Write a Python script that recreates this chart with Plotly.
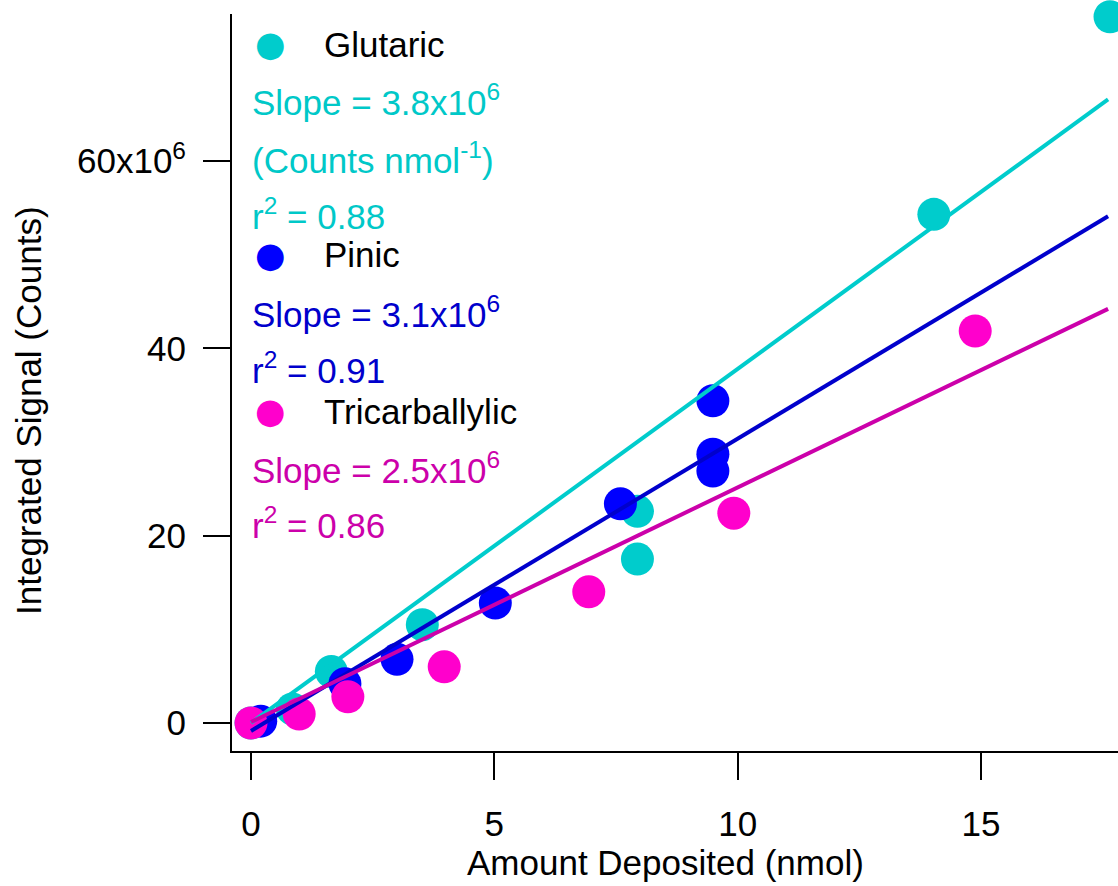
import plotly.graph_objects as go

# ---------------- data (signal in units of 1e6 counts) ----------------
glut_x = [0.0, 0.85, 1.65, 3.52, 7.94, 7.94, 14.03, 17.65]
glut_y = [0.0, 1.5, 5.5, 10.5, 22.6, 17.5, 54.3, 75.4]
pinic_x = [0.2, 1.93, 3.0, 5.02, 7.59, 9.49, 9.49, 9.49]
pinic_y = [0.2, 4.2, 6.8, 12.8, 23.4, 34.4, 28.7, 26.9]
tri_x = [0.0, 0.99, 1.99, 3.97, 6.94, 9.92, 14.88]
tri_y = [0.0, 0.96, 2.8, 6.0, 14.0, 22.4, 41.85]

fit_x = [0.0, 17.61]
glut_fit = (3.78, 0.0)     # slope, intercept
pinic_fit = (3.12, -0.85)
tri_fit = (2.505, 0.1)

y_tickvals = [0, 20, 40, 60]
y_ticktext = ["0", "20", "40", "60x10<sup>6</sup>"]
x_tickvals = [0, 5, 10, 15]

names = ["Glutaric", "Pinic", "Tricarballylic"]
slope_txt = ["Slope = 3.8x10<sup>6</sup>", "Slope = 3.1x10<sup>6</sup>", "Slope = 2.5x10<sup>6</sup>"]
r2_txt = ["r<sup>2</sup> = 0.88", "r<sup>2</sup> = 0.91", "r<sup>2</sup> = 0.86"]
units_txt = "(Counts nmol<sup>-1</sup>)"

# ---------------- style ----------------
W, H = 1118, 886
L, R, T, B = 232, 0, 14, 135
FONT = "Liberation Sans, Arial, sans-serif"
FS = 35
mk_col = ["#00CCCC", "#0000FF", "#FF00CC"]
ln_col = ["#00CCCC", "#0000CC", "#CC00AA"]
tx_col = ["#00C8C8", "#0000CC", "#CC00AA"]

def px(xp):
    return (xp - L) / (W - L - R)

def py(yp):
    return 1 - (yp - T) / (H - T - B)

fig = go.Figure()
for xs, ys, c, n in [(glut_x, glut_y, mk_col[0], names[0]),
                     (pinic_x, pinic_y, mk_col[1], names[1]),
                     (tri_x, tri_y, mk_col[2], names[2])]:
    fig.add_trace(go.Scatter(x=xs, y=ys, mode="markers", name=n,
                             marker=dict(size=33, color=c, line=dict(width=0)),
                             cliponaxis=False, showlegend=False))
for (m, b), c in [(glut_fit, ln_col[0]), (pinic_fit, ln_col[1]), (tri_fit, ln_col[2])]:
    fig.add_trace(go.Scatter(x=fit_x, y=[m * v + b for v in fit_x], mode="lines",
                             line=dict(color=c, width=4), showlegend=False,
                             cliponaxis=False))

ann = []
rows = [(44, 100, 214, 158), (255, 312, 368, None), (411, 468, 523, None)]
for i, (yn, ys, yr, yu) in enumerate(rows):
    ann.append(dict(x=px(270), y=py(yn), text="●", showarrow=False,
                    xanchor="center", yanchor="middle",
                    font=dict(family="DejaVu Sans", size=35, color=mk_col[i])))
    ann.append(dict(x=px(322), y=py(yn), text=names[i], showarrow=False,
                    xanchor="left", yanchor="middle",
                    font=dict(family=FONT, size=FS, color="black")))
    ann.append(dict(x=px(250), y=py(ys), text=slope_txt[i], showarrow=False,
                    xanchor="left", yanchor="middle",
                    font=dict(family=FONT, size=FS, color=tx_col[i])))
    ann.append(dict(x=px(250), y=py(yr), text=r2_txt[i], showarrow=False,
                    xanchor="left", yanchor="middle",
                    font=dict(family=FONT, size=FS, color=tx_col[i])))
    if yu is not None:
        ann.append(dict(x=px(250), y=py(yu), text=units_txt, showarrow=False,
                        xanchor="left", yanchor="middle",
                        font=dict(family=FONT, size=FS, color=tx_col[i])))

ann.append(dict(x=px(665), y=py(862), text="Amount Deposited (nmol)", showarrow=False,
                xanchor="center", yanchor="middle",
                font=dict(family=FONT, size=FS, color="black")))
ann.append(dict(x=px(28), y=py(411), text="Integrated Signal (Counts)", showarrow=False,
                textangle=-90, xanchor="center", yanchor="middle",
                font=dict(family=FONT, size=FS, color="black")))
for a in ann:
    a["xref"] = "paper"
    a["yref"] = "paper"

px_per_x = 48.67
px_per_y = 9.367
x0 = -(251 - L) / px_per_x
x1 = x0 + (W - L - R) / px_per_x
y0 = -(751 - 723) / px_per_y
y1 = y0 + (H - T - B) / px_per_y

fig.update_layout(
    width=W, height=H,
    margin=dict(l=L, r=R, t=T, b=B, pad=0),
    paper_bgcolor="white", plot_bgcolor="white",
    font=dict(family=FONT, size=FS, color="black"),
    annotations=ann,
    xaxis=dict(range=[x0, x1], tickvals=x_tickvals, ticks="outside", ticklen=27,
               tickwidth=2, tickcolor="black", showline=True, linecolor="black",
               linewidth=2, showgrid=False, zeroline=False, ticklabelstandoff=14,
               tickfont=dict(family=FONT, size=FS)),
    yaxis=dict(range=[y0, y1], tickvals=y_tickvals, ticktext=y_ticktext,
               ticks="outside", ticklen=27, tickwidth=2, tickcolor="black",
               showline=True, linecolor="black", linewidth=2, showgrid=False,
               zeroline=False, ticklabelstandoff=10,
               tickfont=dict(family=FONT, size=FS)),
)

fig.write_html("out.html")
